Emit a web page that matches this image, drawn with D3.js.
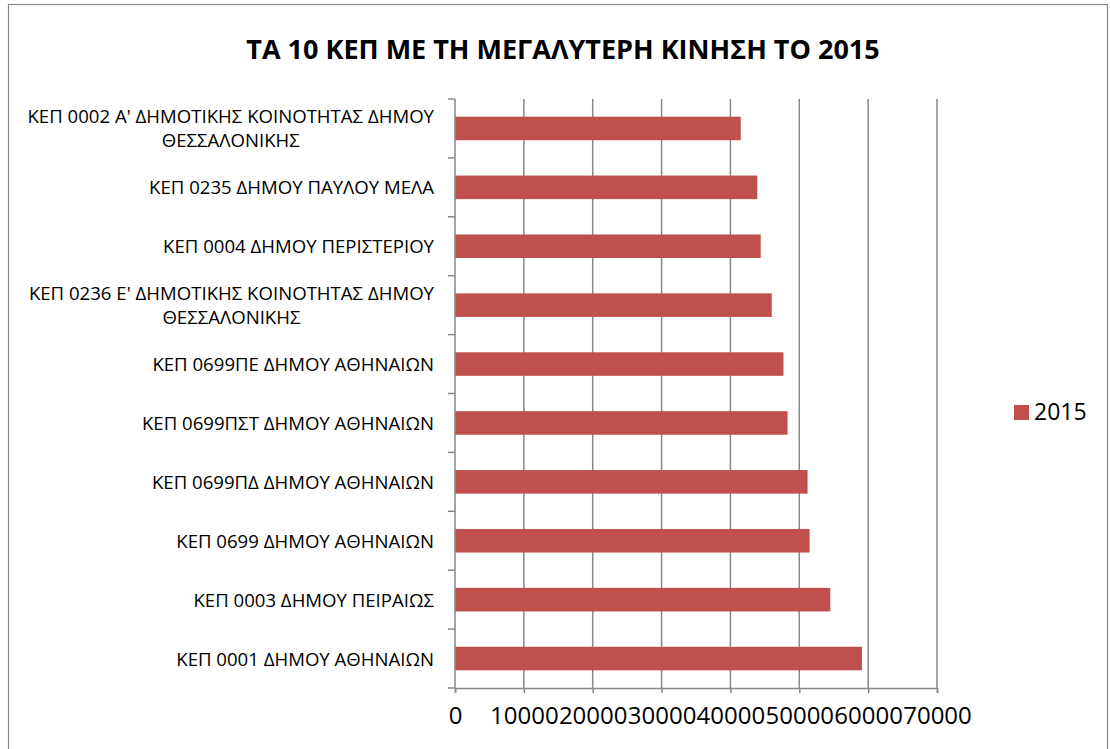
<!DOCTYPE html>
<html>
<head>
<meta charset="utf-8">
<script src="https://cdn.jsdelivr.net/npm/d3@7"></script>
<style>
  body { margin: 0; background: #fff; }
  svg text { font-family: "Open Sans", "Noto Sans", sans-serif; fill: #000; }
</style>
</head>
<body>
<div id="chart"></div>
<script>
// data, top to bottom as in the chart
const categories = [
  "ΚΕΠ 0002 Α' ΔΗΜΟΤΙΚΗΣ ΚΟΙΝΟΤΗΤΑΣ ΔΗΜΟΥ ΘΕΣΣΑΛΟΝΙΚΗΣ",
  "ΚΕΠ 0235 ΔΗΜΟΥ ΠΑΥΛΟΥ ΜΕΛΑ",
  "ΚΕΠ 0004 ΔΗΜΟΥ ΠΕΡΙΣΤΕΡΙΟΥ",
  "ΚΕΠ 0236 Ε' ΔΗΜΟΤΙΚΗΣ ΚΟΙΝΟΤΗΤΑΣ ΔΗΜΟΥ ΘΕΣΣΑΛΟΝΙΚΗΣ",
  "ΚΕΠ 0699ΠΕ ΔΗΜΟΥ ΑΘΗΝΑΙΩΝ",
  "ΚΕΠ 0699ΠΣΤ ΔΗΜΟΥ ΑΘΗΝΑΙΩΝ",
  "ΚΕΠ 0699ΠΔ ΔΗΜΟΥ ΑΘΗΝΑΙΩΝ",
  "ΚΕΠ 0699 ΔΗΜΟΥ ΑΘΗΝΑΙΩΝ",
  "ΚΕΠ 0003 ΔΗΜΟΥ ΠΕΙΡΑΙΩΣ",
  "ΚΕΠ 0001 ΔΗΜΟΥ ΑΘΗΝΑΙΩΝ"
];
const values2015 = [41500, 43900, 44400, 46000, 47700, 48300, 51200, 51500, 54500, 59100];
const xTicks = [0, 10000, 20000, 30000, 40000, 50000, 60000, 70000];
const seriesName = "2015";
const title = "ΤΑ 10 ΚΕΠ ΜΕ ΤΗ ΜΕΓΑΛΥΤΕΡΗ ΚΙΝΗΣΗ ΤΟ 2015";

const W = 1110, H = 749;
let margin = {top: 99, right: 173, bottom: 61, left: 455},
    width = W - margin.left - margin.right,
    height = H - margin.top - margin.bottom;

const barColor = "#c0504d";
const gridColor = "#878787";

let svg = d3.select("#chart").append("svg")
  .attr("width", W)
  .attr("height", H);

// outer chart border
svg.append("rect")
  .attr("x", 8.5).attr("y", 4.5)
  .attr("width", 1099).attr("height", 760)
  .attr("fill", "none")
  .attr("stroke", gridColor)
  .attr("stroke-width", 1.2);

svg.append("text")
  .attr("x", 563).attr("y", 59)
  .attr("text-anchor", "middle")
  .style("font-size", "27px")
  .style("font-weight", "bold")
  .text(title);

let g = svg.append("g")
  .attr("transform", "translate(" + margin.left + "," + margin.top + ")");

let x = d3.scaleLinear().domain([0, 70000]).range([0, width]);
let y = d3.scaleBand().domain(categories).range([0, height]).paddingInner(0.6).paddingOuter(0.3);

// vertical gridlines
g.selectAll(".grid")
  .data(xTicks.slice(1))
  .enter().append("line")
  .attr("x1", d => x(d)).attr("x2", d => x(d))
  .attr("y1", 0).attr("y2", height)
  .attr("stroke", gridColor)
  .attr("stroke-width", 1.5);

// bars
g.selectAll(".bar")
  .data(values2015)
  .enter().append("rect")
  .attr("class", "bar")
  .attr("x", 0)
  .attr("y", (d, i) => y(categories[i]))
  .attr("width", d => x(d))
  .attr("height", y.bandwidth())
  .attr("fill", barColor);

// x axis
let xAxis = g.append("g")
  .attr("transform", "translate(0," + height + ")")
  .call(d3.axisBottom(x).tickValues(xTicks).tickSize(5).tickPadding(14).tickFormat(d3.format("d")));
xAxis.select(".domain").attr("stroke", gridColor).attr("stroke-width", 1.5);
xAxis.selectAll(".tick line").attr("stroke", gridColor).attr("stroke-width", 1.5);
xAxis.selectAll(".tick text")
  .style("font-size", "24px")
  .style("font-family", "'Open Sans', sans-serif")
  .attr("fill", "#000");

// y axis: tick marks at band boundaries
let step = height / categories.length;
let yAxis = g.append("g");
yAxis.append("line")
  .attr("x1", 0).attr("x2", 0).attr("y1", 0).attr("y2", height)
  .attr("stroke", gridColor).attr("stroke-width", 1.5);
yAxis.selectAll(".ytick")
  .data(d3.range(categories.length + 1))
  .enter().append("line")
  .attr("x1", -7).attr("x2", 0)
  .attr("y1", d => d * step).attr("y2", d => d * step)
  .attr("stroke", gridColor).attr("stroke-width", 1.5);

// category labels (long ones wrap in two centered lines)
const labelRight = -21;
categories.forEach(function(c, i){
  let cy = y(c) + y.bandwidth() / 2;
  let lines = c.length > 40 ? [c.replace(/ ΘΕΣΣΑΛΟΝΙΚΗΣ$/, ""), "ΘΕΣΣΑΛΟΝΙΚΗΣ"] : [c];
  let t = g.append("text")
    .style("font-size", "18.6px")
    .attr("text-anchor", "end");
  if (lines.length === 1) {
    t.attr("x", labelRight).attr("y", cy + 7).text(c);
  } else {
    let first = t.append("tspan").attr("x", labelRight).attr("y", cy - 5).text(lines[0]);
    let w = first.node().getComputedTextLength();
    t.append("tspan")
      .attr("x", labelRight - w / 2).attr("y", cy + 19)
      .attr("text-anchor", "middle")
      .text(lines[1]);
  }
});

// legend
let legend = svg.append("g").attr("transform", "translate(1014,405)");
legend.append("rect").attr("width", 15).attr("height", 15).attr("fill", barColor);
legend.append("text").attr("x", 20).attr("y", 15)
  .style("font-size", "23px")
  .text(seriesName);
</script>
</body>
</html>
